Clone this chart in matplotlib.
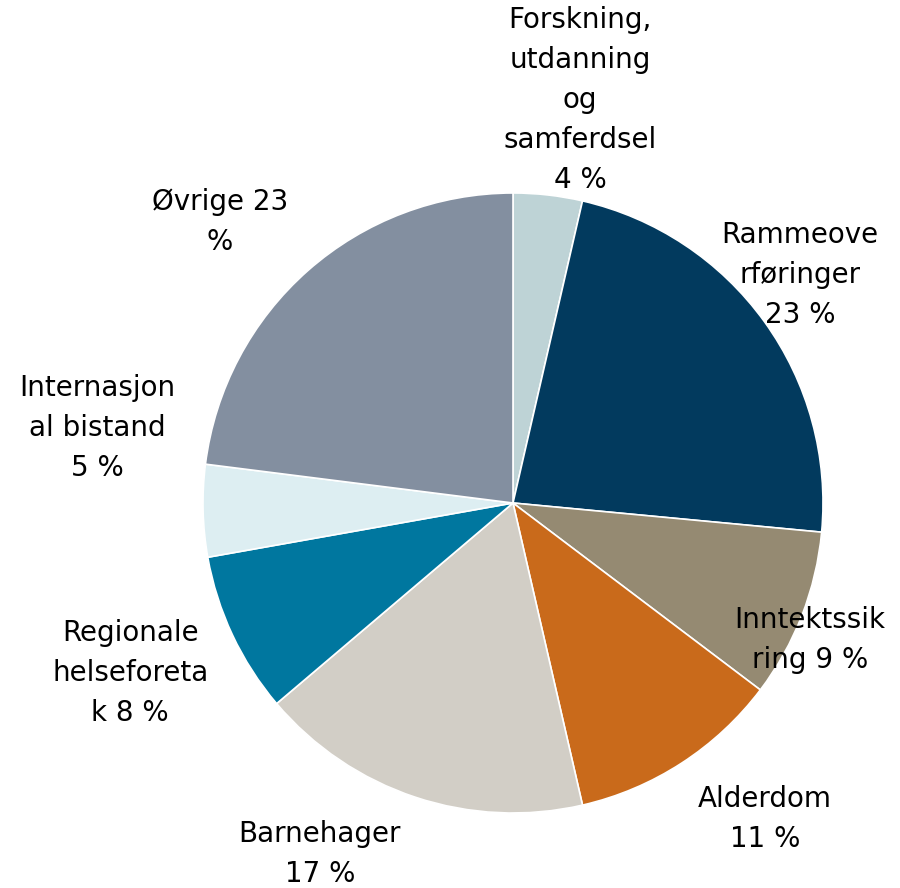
import matplotlib.pyplot as plt

# Andel av utgiftene, prosent
names = [
    "Forskning,\nutdanning\nog\nsamferdsel\n",
    "Rammeove\nrføringer\n",
    "Inntektssik\nring ",
    "Alderdom\n",
    "Barnehager\n",
    "Regionale\nhelseforeta\nk ",
    "Internasjon\nal bistand\n",
    "Øvrige 23\n",
]
shares = [3.6, 22.9, 8.8, 11.1, 17.4, 8.4, 4.8, 23.0]
colors = ["#BED3D6", "#023A5E", "#958A72", "#C96A1B",
          "#D2CEC6", "#00779F", "#DDEEF2", "#838FA0"]

# label anchor points (data units, pie radius = 1)
label_xy = [(0.216, 1.30), (0.926, 0.735), (0.958, -0.442), (0.813, -1.019),
            (-0.623, -1.132), (-1.235, -0.548), (-1.342, 0.242), (-0.945, 0.906)]

fig = plt.figure(figsize=(9, 8.88), dpi=100)
ax = fig.add_axes([203 / 900, 75 / 888, 620 / 900, 620 / 888])
ax.pie(shares, colors=colors, startangle=90, counterclock=False,
       radius=1.0, wedgeprops=dict(edgecolor="white", linewidth=1.2))
ax.set_xlim(-1, 1)
ax.set_ylim(-1, 1)
ax.set_aspect("equal")
ax.axis("off")

for name, v, (x, y) in zip(names, shares, label_xy):
    if name.endswith("23\n"):
        text = name + "%"
    else:
        text = name + f"{v:.0f} %"
    ax.text(x, y, text, ha="center", va="center", fontsize=20,
            linespacing=1.55, family="DejaVu Sans", clip_on=False)

fig.savefig("out.png", dpi=100)
